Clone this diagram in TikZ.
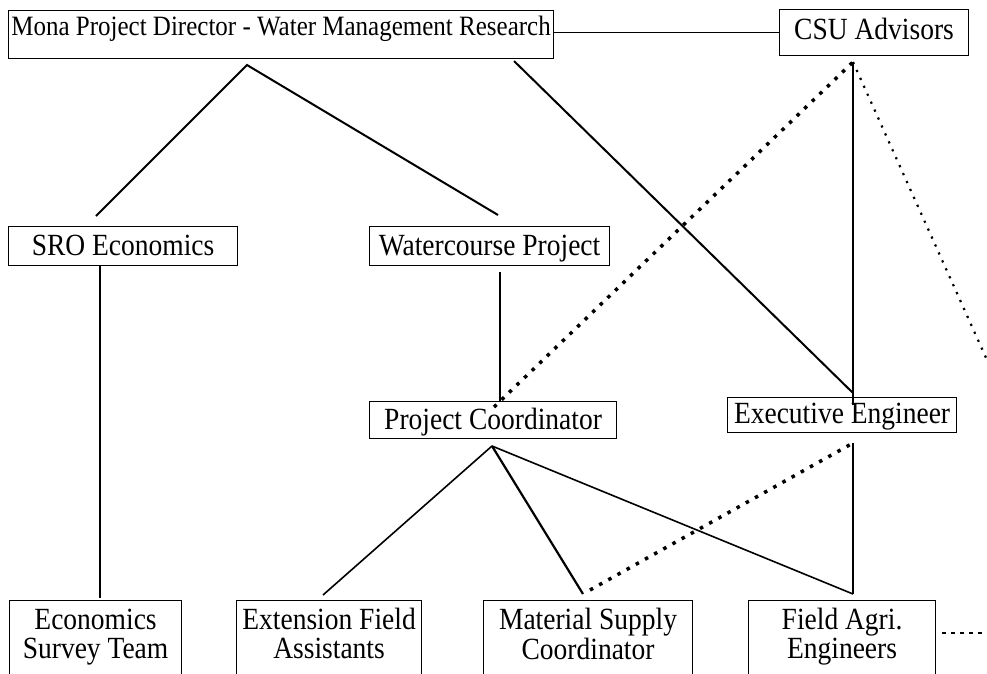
\documentclass[tikz,border=0pt]{standalone}
\usepackage{graphicx}
\usepackage{fontspec}
\setmainfont{Liberation Serif}
\newcommand\talltext[1]{\scalebox{1}[1.12]{#1}}
\begin{document}
\begin{tikzpicture}[x=1pt,y=-1pt,
  orgbox/.style={draw, line width=1.1pt, inner sep=0pt, anchor=north west, align=center,
    font=\fontsize{27.5}{28}\selectfont},
  lowbox/.style={orgbox, text height=29pt, text depth=71pt, font=\fontsize{27.5}{25}\selectfont},
  solidline/.style={line width=2pt},
  thinline/.style={line width=1.2pt},
  midline/.style={line width=1.6pt},
  thickdots/.style={line width=3.5pt, dash pattern=on 3.5pt off 7pt},
  finedots/.style={line width=2.2pt, dash pattern=on 2.2pt off 6.5pt},
  sidedots/.style={line width=1.5pt, dash pattern=on 4pt off 5pt}]
\useasboundingbox (0,0) rectangle (987,673);
\clip (0,0) rectangle (987,673);
\fill[white] (0,0) rectangle (987,673);

% boxes
\node[orgbox, minimum width=545pt, minimum height=48pt, text height=25pt, text depth=23pt,
  font=\fontsize{25}{26}\selectfont] (mona) at (8,10) {\talltext{Mona Project Director - Water Management Research}};
\node[orgbox, minimum width=189pt, minimum height=46pt, text height=30pt, text depth=16pt] (csu) at (779,9) {\talltext{CSU Advisors}};
\node[orgbox, minimum width=229pt, minimum height=39pt, text height=29pt, text depth=10pt] (sro) at (8,226) {\talltext{SRO Economics}};
\node[orgbox, minimum width=240pt, minimum height=39pt, text height=29pt, text depth=10pt] (water) at (369,226) {\talltext{Watercourse Project}};
\node[orgbox, minimum width=247pt, minimum height=37pt, text height=28pt, text depth=9pt] (pc) at (369,401) {\talltext{Project Coordinator}};
\node[orgbox, minimum width=229pt, minimum height=35pt, text height=26pt, text depth=9pt] (ee) at (727,397) {\talltext{Executive Engineer}};
\node[lowbox, minimum width=172pt] (est) at (9,600)
  {\talltext{\begin{tabular}[t]{@{}c@{}}Economics\\Survey Team\end{tabular}}};
\node[lowbox, minimum width=185pt] (efa) at (236,600)
  {\talltext{\begin{tabular}[t]{@{}c@{}}Extension Field\\Assistants\end{tabular}}};
\node[lowbox, minimum width=209pt] (msc) at (483,600)
  {\talltext{\begin{tabular}[t]{@{}c@{}}Material Supply\\Coordinator\end{tabular}}};
\node[lowbox, minimum width=187pt] (fae) at (748,600)
  {\talltext{\begin{tabular}[t]{@{}c@{}}Field Agri.\\Engineers\end{tabular}}};

% connection points
\coordinate (monaA) at (247,65);
\coordinate (monaB) at (514,61);
\coordinate (sroT) at (96,216);
\coordinate (waterT) at (498,215);
\coordinate (csuB) at (853,62);
\coordinate (eeT) at (853,393);
\coordinate (eeT2) at (853,405);
\coordinate (pcT) at (494,407);
\coordinate (rightEnd) at (987,360);
\coordinate (sroB) at (100,265);
\coordinate (estT) at (100,598);
\coordinate (waterB) at (500,272);
\coordinate (pcT2) at (500,401);
\coordinate (pcB) at (492,446);
\coordinate (efaT) at (323,595);
\coordinate (mscT) at (583,594);
\coordinate (faeT) at (853,594);
\coordinate (eeB) at (853,443);
\coordinate (mscT2) at (590,590);
\coordinate (faeR) at (942,633);
\coordinate (sideEnd) at (987,633);

% connectors
\draw[thinline] (mona.east |- csu.west) -- (csu.west);
\draw[solidline] (sroT) -- (monaA) -- (waterT);
\draw[solidline] (monaB) -- (eeT);
\draw[solidline] (csuB) -- (eeT2);
\draw[thickdots] (pcT) -- (csuB);
\draw[finedots] (csuB) -- (rightEnd);
\draw[solidline] (sroB) -- (estT);
\draw[solidline] (waterB) -- (pcT2);
\draw[midline] (pcB) -- (efaT);
\draw[line width=2.2pt] (pcB) -- (mscT);
\draw[midline] (pcB) -- (faeT);
\draw[solidline] (eeB) -- (faeT);
\draw[thickdots] (mscT2) -- (eeB);
\draw[sidedots] (faeR) -- (sideEnd);
\end{tikzpicture}
\end{document}
